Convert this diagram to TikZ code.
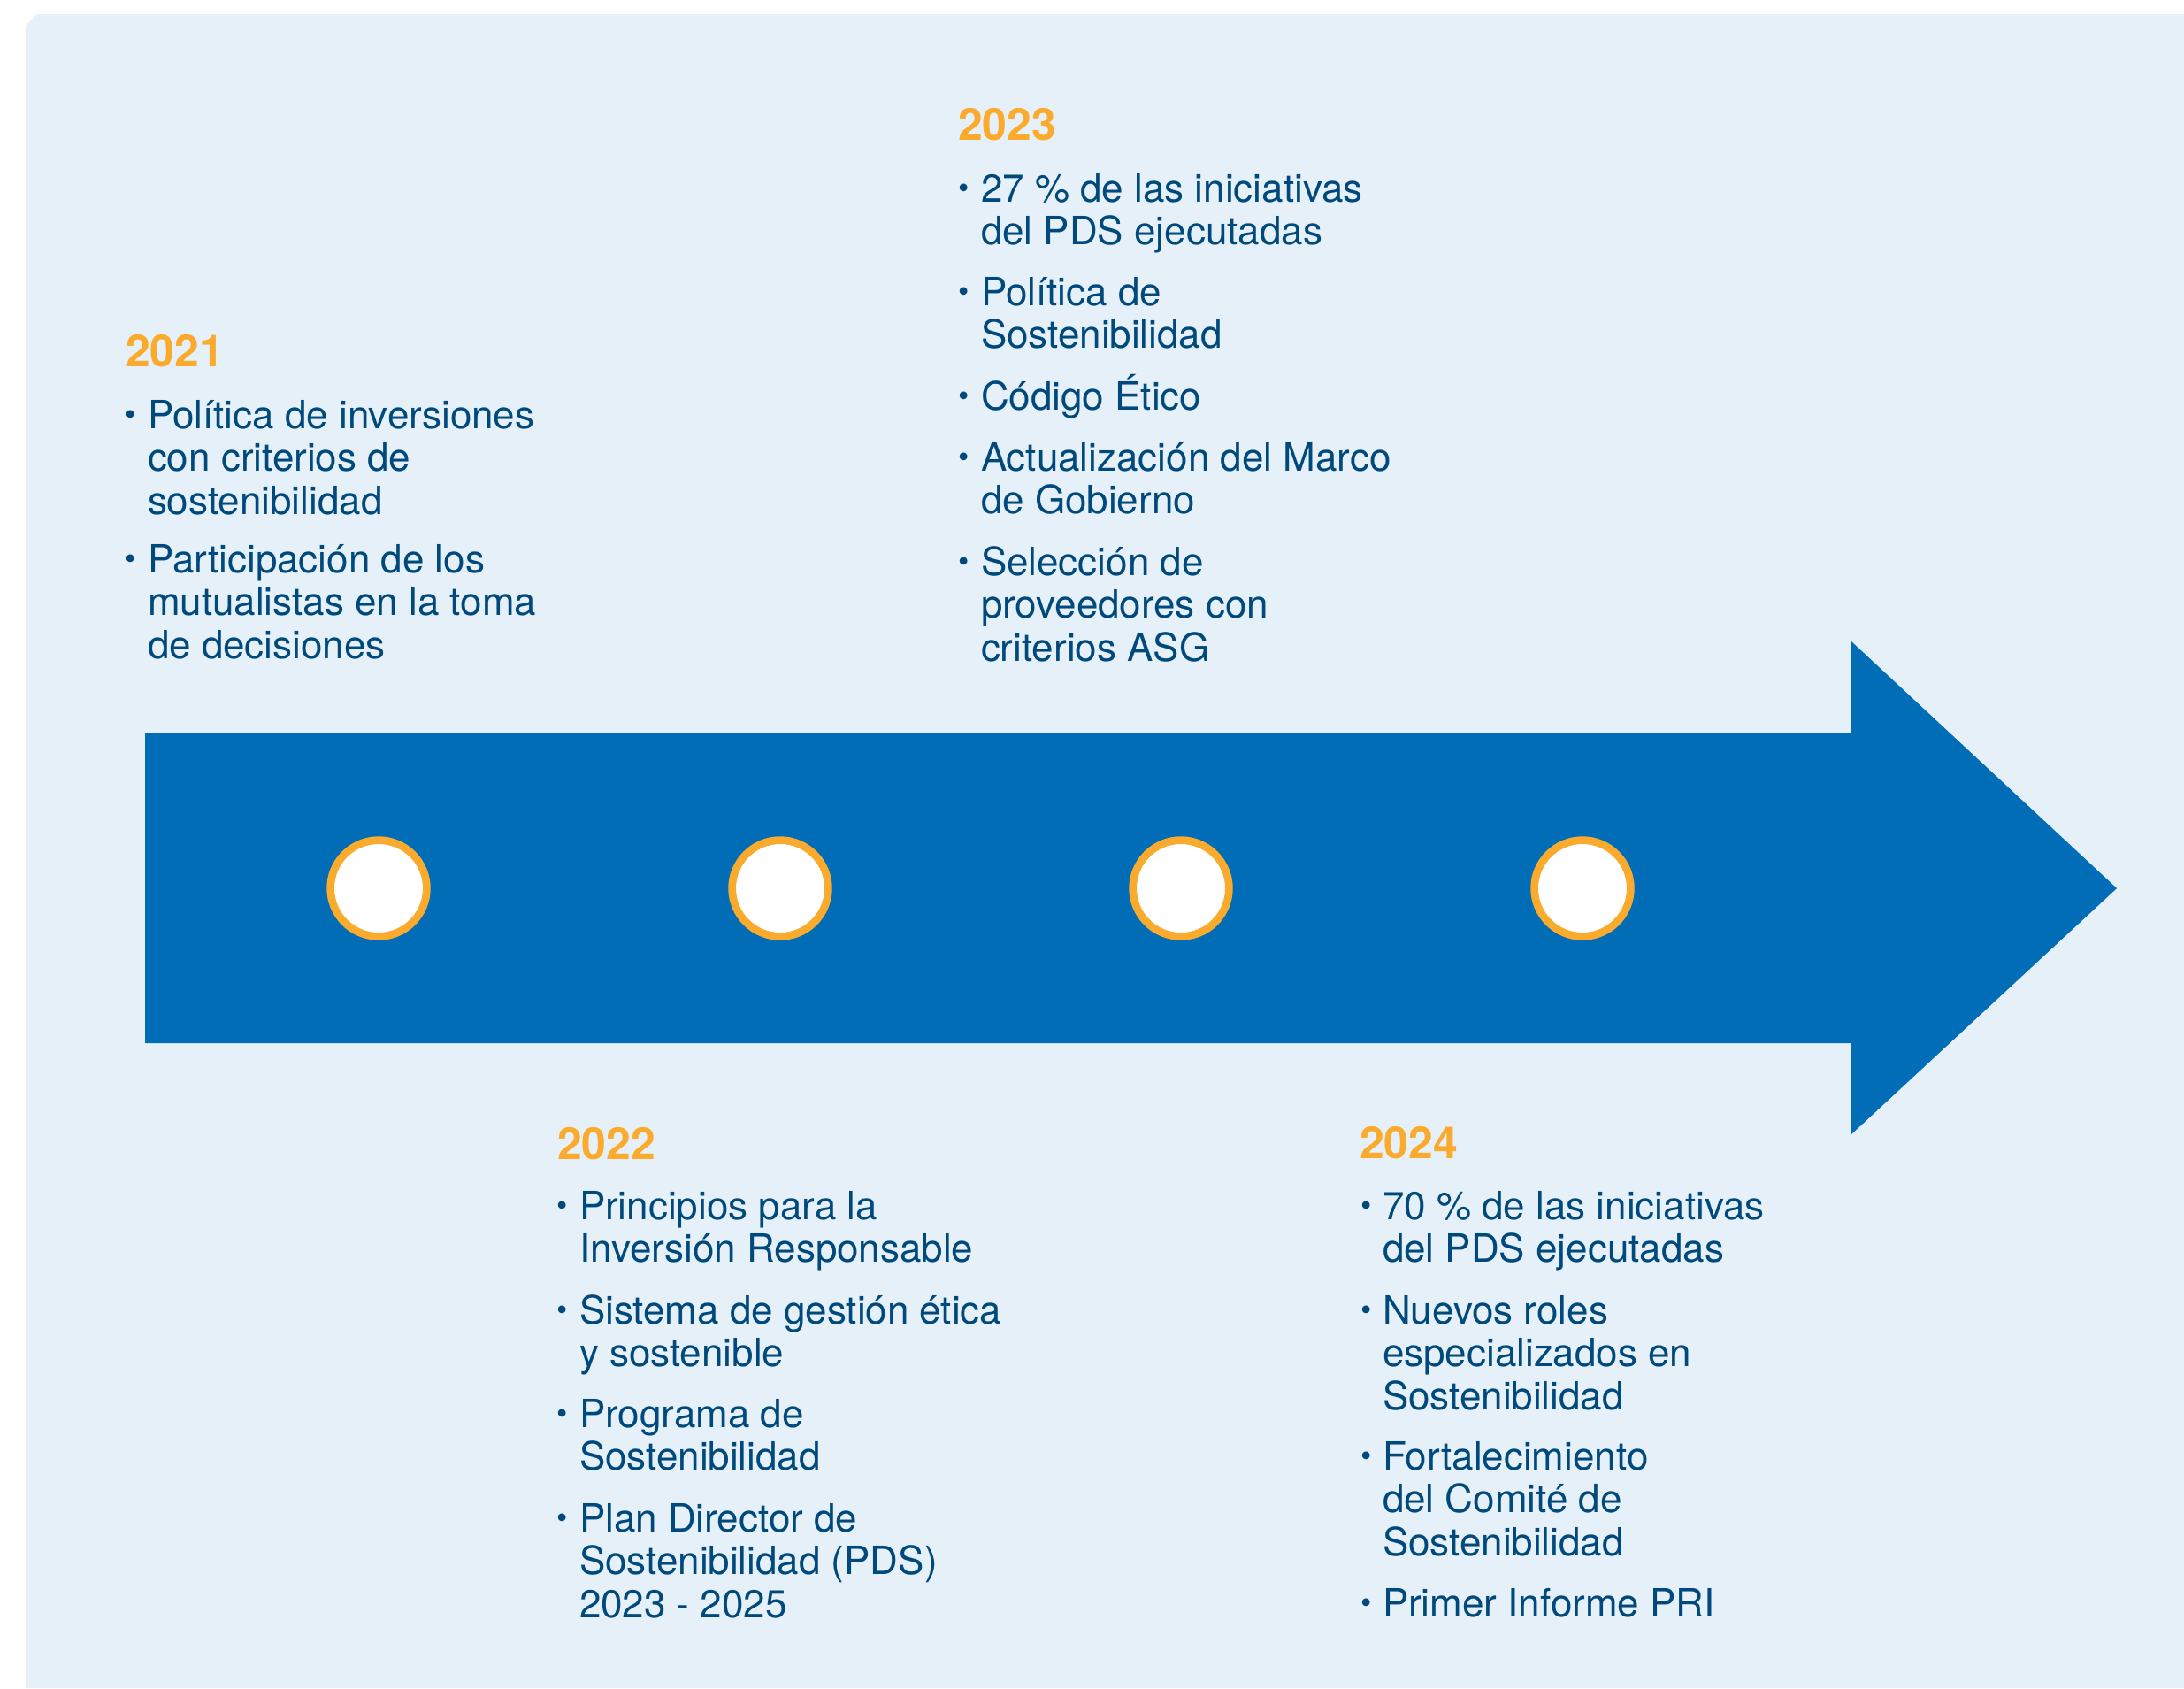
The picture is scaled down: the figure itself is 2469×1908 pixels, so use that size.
\documentclass[tikz,border=0pt]{standalone}
\usepackage{fontspec}
\setmainfont{TeX Gyre Heros}
\definecolor{bgblue}{RGB}{230,240,249}
\definecolor{arrowblue}{RGB}{0,109,182}
\definecolor{ringorange}{RGB}{250,170,44}
\definecolor{textnavy}{RGB}{0,73,124}
\newcommand{\bul}{\llap{\raisebox{0.035cm}{\fontsize{10pt}{10pt}\selectfont •}\hspace{0.127cm}}}
\tikzset{
  yearlabel/.style={anchor=base west, inner sep=0pt, outer sep=0pt, text=ringorange,
    font={\fontsize{14.2pt}{15pt}\selectfont\bfseries}},
  entry/.style={anchor=base west, inner sep=0pt, outer sep=0pt, text=textnavy, align=left,
    font={\fontsize{12.5pt}{13.77pt}\selectfont}},
  milestone/.style={circle, draw=ringorange, fill=white, line width=0.087cm,
    minimum size=1.087cm, inner sep=0pt}
}
\begin{document}
\begin{tikzpicture}[x=0.01cm,y=-0.01cm]
\useasboundingbox (0,0) rectangle (2469,1908);
\fill[white] (0,0) rectangle (2469,1908);
\fill[bgblue] (29,1908) -- (29,29) -- (42,16) -- (2469,16) -- (2469,1908) -- cycle;
\fill[arrowblue] (164,829) -- (2093,829) -- (2093,725) -- (2393,1004) -- (2093,1282) -- (2093,1179) -- (164,1179) -- cycle;
\node[milestone] (c1) at (428,1004) {};
\node[milestone] (c2) at (882,1004) {};
\node[milestone] (c3) at (1335,1004) {};
\node[milestone] (c4) at (1789,1004) {};
% anchors are at the baseline of the last line of each entry
% 2021
\node[yearlabel] (y21) at (142,414) {2021};
\node[entry] (a1) at (167,581) {\bul Política de inversiones\\con criterios de\\sostenibilidad};
\node[entry] (a2) at (167,744) {\bul Participación de los\\mutualistas en la toma\\de decisiones};
% 2023
\node[yearlabel] (y23) at (1083,158) {2023};
\node[entry] (c1a) at (1109,276.5) {\bul 27 \% de las iniciativas\\del PDS ejecutadas};
\node[entry] (c1b) at (1109,393.5) {\bul Política de\\Sostenibilidad};
\node[entry] (c1c) at (1109,463) {\bul Código Ético};
\node[entry] (c1d) at (1109,580.5) {\bul Actualización del Marco\\de Gobierno};
\node[entry] (c1e) at (1109,747) {\bul Selección de\\proveedores con\\criterios ASG};
% 2022
\node[yearlabel] (y22) at (630,1310) {2022};
\node[entry] (b1) at (655,1426.5) {\bul Principios para la\\Inversión Responsable};
\node[entry] (b2) at (655,1544.5) {\bul Sistema de gestión ética\\y sostenible};
\node[entry] (b3) at (655,1661.5) {\bul Programa de\\Sostenibilidad};
\node[entry] (b4) at (655,1828) {\bul Plan Director de\\Sostenibilidad (PDS)\\2023 - 2025};
% 2024
\node[yearlabel] (y24) at (1537,1309) {2024};
\node[entry] (d1) at (1563,1426.5) {\bul 70 \% de las iniciativas\\del PDS ejecutadas};
\node[entry] (d2) at (1563,1593) {\bul Nuevos roles\\especializados en\\Sostenibilidad};
\node[entry] (d3) at (1563,1758) {\bul Fortalecimiento\\del Comité de\\Sostenibilidad};
\node[entry] (d4) at (1563,1827) {\bul Primer Informe PRI};
\end{tikzpicture}
\end{document}
